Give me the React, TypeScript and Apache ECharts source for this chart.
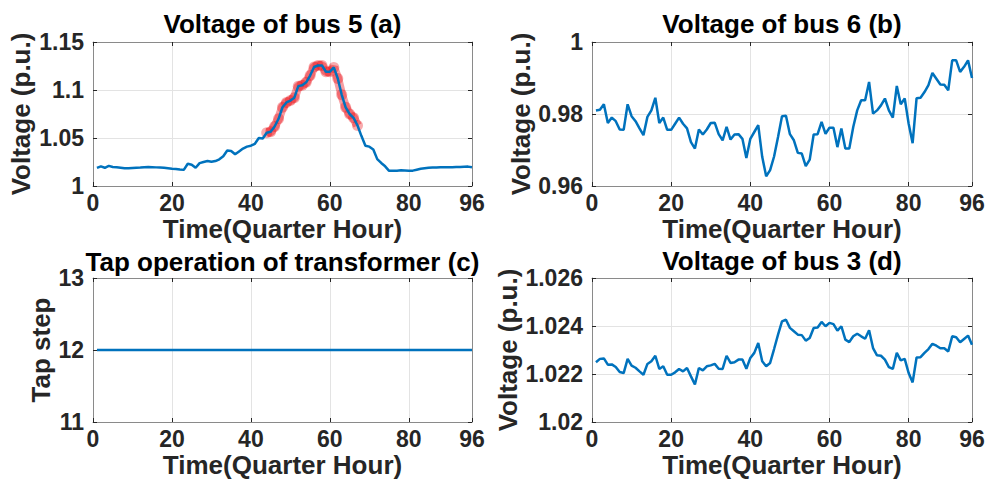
import React, { useEffect, useRef } from "react";
import * as echarts from "echarts";

const TIME = [
  1, 2, 3, 4, 5, 6, 7, 8, 9, 10, 11, 12, 13, 14, 15, 16, 17, 18, 19, 20, 21, 22, 23, 24,
  25, 26, 27, 28, 29, 30, 31, 32, 33, 34, 35, 36, 37, 38, 39, 40, 41, 42, 43, 44, 45, 46, 47, 48,
  49, 50, 51, 52, 53, 54, 55, 56, 57, 58, 59, 60, 61, 62, 63, 64, 65, 66, 67, 68, 69, 70, 71, 72,
  73, 74, 75, 76, 77, 78, 79, 80, 81, 82, 83, 84, 85, 86, 87, 88, 89, 90, 91, 92, 93, 94, 95, 96,
];

const X_TICKS = [0, 20, 40, 60, 80, 96];

// (a) Voltage of bus 5
const BUS5 = [
  1.0188, 1.0205, 1.019, 1.021, 1.0198, 1.0195, 1.019, 1.0185, 1.0185, 1.0188, 1.019, 1.0192,
  1.0195, 1.0198, 1.0196, 1.0194, 1.0192, 1.019, 1.0185, 1.018, 1.0178, 1.0172, 1.0168, 1.0232,
  1.0222, 1.019, 1.0238, 1.025, 1.026, 1.0252, 1.026, 1.0278, 1.031, 1.037, 1.0365, 1.033,
  1.036, 1.039, 1.041, 1.042, 1.044, 1.05, 1.0495, 1.0555, 1.0565, 1.062, 1.07, 1.082,
  1.087, 1.089, 1.092, 1.104, 1.105, 1.108, 1.115, 1.124, 1.1255, 1.1255, 1.119, 1.119,
  1.1235, 1.112, 1.095, 1.082, 1.075, 1.071, 1.063, 1.052, 1.042, 1.041, 1.038, 1.028,
  1.024, 1.0205, 1.0158, 1.0158, 1.016, 1.0163, 1.0162, 1.016, 1.016, 1.017, 1.018, 1.0185,
  1.019, 1.0192, 1.0192, 1.0195, 1.0195, 1.0195, 1.0195, 1.0198, 1.0198, 1.02, 1.0202, 1.0195,
];
// over-voltage period highlighted in red (time indices)
const HIGHLIGHT_START = 44;
const HIGHLIGHT_END = 67;

// (b) Voltage of bus 6
const BUS6 = [
  0.981, 0.9812, 0.9827, 0.9775, 0.979, 0.978, 0.9757, 0.9756, 0.9827, 0.9794, 0.978, 0.976,
  0.9741, 0.9792, 0.981, 0.9845, 0.9775, 0.979, 0.9756, 0.9756, 0.9773, 0.979, 0.9773, 0.976,
  0.9722, 0.9704, 0.9757, 0.9743, 0.9757, 0.9775, 0.9776, 0.9744, 0.9727, 0.9764, 0.9729, 0.9743,
  0.9744, 0.9731, 0.9678, 0.9731, 0.975, 0.9769, 0.9681, 0.9627, 0.9644, 0.9682, 0.9736, 0.9794,
  0.9795, 0.9744, 0.9727, 0.9692, 0.969, 0.9655, 0.9673, 0.9743, 0.9744, 0.9778, 0.9745, 0.9762,
  0.9762, 0.9708, 0.976, 0.9704, 0.9704, 0.9764, 0.981, 0.9838, 0.9838, 0.9889, 0.9801, 0.981,
  0.9824, 0.9843, 0.981, 0.979, 0.9878, 0.9827, 0.9843, 0.9773, 0.9719, 0.9844, 0.9845, 0.9861,
  0.988, 0.9914, 0.9898, 0.9882, 0.9881, 0.9866, 0.9949, 0.9949, 0.9917, 0.9931, 0.9949, 0.99,
];

// (c) Tap operation of transformer
const TAP = [
  12, 12, 12, 12, 12, 12, 12, 12, 12, 12, 12, 12, 12, 12, 12, 12, 12, 12, 12, 12, 12, 12, 12, 12,
  12, 12, 12, 12, 12, 12, 12, 12, 12, 12, 12, 12, 12, 12, 12, 12, 12, 12, 12, 12, 12, 12, 12, 12,
  12, 12, 12, 12, 12, 12, 12, 12, 12, 12, 12, 12, 12, 12, 12, 12, 12, 12, 12, 12, 12, 12, 12, 12,
  12, 12, 12, 12, 12, 12, 12, 12, 12, 12, 12, 12, 12, 12, 12, 12, 12, 12, 12, 12, 12, 12, 12, 12,
];

// (d) Voltage of bus 3
const BUS3 = [
  1.02249, 1.02263, 1.02265, 1.02239, 1.0224, 1.02229, 1.02208, 1.02204, 1.02263, 1.02235, 1.02226, 1.02211,
  1.02197, 1.02242, 1.02253, 1.02276, 1.02221, 1.02232, 1.02197, 1.02197, 1.02207, 1.02221, 1.02211, 1.02225,
  1.0219, 1.02156, 1.02225, 1.02215, 1.02232, 1.02236, 1.02242, 1.02222, 1.02221, 1.02276, 1.02246, 1.02249,
  1.0226, 1.0226, 1.02222, 1.02267, 1.02288, 1.02329, 1.02253, 1.02232, 1.02246, 1.02304, 1.02364, 1.02419,
  1.02426, 1.02392, 1.02378, 1.02364, 1.02362, 1.02339, 1.0235, 1.02392, 1.02394, 1.02417, 1.02399, 1.02413,
  1.02408, 1.02381, 1.02399, 1.02343, 1.02333, 1.02357, 1.02368, 1.02357, 1.02347, 1.02382, 1.02308, 1.02278,
  1.02276, 1.0226, 1.02229, 1.02221, 1.02288, 1.02257, 1.02263, 1.02204, 1.02165, 1.02269, 1.0227, 1.02288,
  1.02304, 1.02326, 1.02318, 1.02307, 1.02307, 1.02294, 1.02357, 1.02353, 1.02332, 1.02346, 1.0236, 1.02322,
];

const PANELS = [
  { title: "Voltage of bus 5 (a)", yName: "Voltage (p.u.)", yMin: 1, yMax: 1.15, yInterval: 0.05, values: BUS5 },
  { title: "Voltage of bus 6 (b)", yName: "Voltage (p.u.)", yMin: 0.96, yMax: 1, yInterval: 0.02, values: BUS6 },
  { title: "Tap operation of transformer (c)", yName: "Tap step", yMin: 11, yMax: 13, yInterval: 1, values: TAP },
  { title: "Voltage of bus 3 (d)", yName: "Voltage (p.u.)", yMin: 1.02, yMax: 1.026, yInterval: 0.002, values: BUS3 },
];

const X_NAME = "Time(Quarter Hour)";

// layout (pixels)
const GRIDS = [
  { left: 93, top: 42, width: 379, height: 144, nameGap: 59, titleY: 24 },
  { left: 592, top: 42, width: 380, height: 144, nameGap: 56, titleY: 24 },
  { left: 93, top: 278, width: 379, height: 144, nameGap: 39, titleY: 262 },
  { left: 592, top: 278, width: 380, height: 144, nameGap: 71, titleY: 261 },
];

const FONT = '"Liberation Sans", Arial, Helvetica, sans-serif';
const AXIS_COLOR = "#8a8a8a";
const TEXT_COLOR = "#262626";
const GRID_COLOR = "#e3e3e3";
const LINE_COLOR = "#0072BD";

export default function App() {
  const ref = useRef<HTMLDivElement>(null);

  useEffect(() => {
    if (!ref.current) return;
    const chart = echarts.init(ref.current, undefined, { renderer: "svg" });

    const xAxes: any[] = [];
    const yAxes: any[] = [];
    const series: any[] = [];
    const graphics: any[] = [];

    PANELS.forEach((p, i) => {
      const g = GRIDS[i];
      xAxes.push({
        type: "value",
        gridIndex: i,
        position: "bottom",
        min: 0,
        max: 96,
        interval: 20,
        name: X_NAME,
        nameLocation: "middle",
        nameGap: 31,
        nameTextStyle: { fontFamily: FONT, fontWeight: "bold", fontSize: 26, lineHeight: 24, color: TEXT_COLOR },
        axisLine: { show: true, lineStyle: { color: AXIS_COLOR, width: 1 } },
        axisTick: { show: true, inside: true, length: 4, lineStyle: { color: TEXT_COLOR } },
        axisLabel: {
          show: true,
          margin: 6,
          fontFamily: FONT,
          fontWeight: "bold",
          fontSize: 23,
          lineHeight: 22,
          color: TEXT_COLOR,
          showMaxLabel: true,
          showMinLabel: true,
          customValues: X_TICKS,
        },
        splitLine: { show: true, lineStyle: { color: GRID_COLOR, width: 1 } },
      });
      yAxes.push({
        type: "value",
        gridIndex: i,
        position: "left",
        min: p.yMin,
        max: p.yMax,
        interval: p.yInterval,
        name: p.yName,
        nameLocation: "middle",
        nameGap: g.nameGap,
        nameTextStyle: { fontFamily: FONT, fontWeight: "bold", fontSize: 26, color: TEXT_COLOR },
        axisLine: { show: true, lineStyle: { color: AXIS_COLOR, width: 1 } },
        axisTick: { show: true, inside: true, length: 4, lineStyle: { color: TEXT_COLOR } },
        axisLabel: {
          show: true,
          margin: 9,
          fontFamily: FONT,
          fontWeight: "bold",
          fontSize: 23,
          color: TEXT_COLOR,
        },
        splitLine: { show: true, lineStyle: { color: GRID_COLOR, width: 1 } },
      });
      graphics.push({
        type: "text",
        x: g.left + g.width / 2,
        y: g.titleY,
        style: {
          text: p.title,
          font: `bold 26px ${FONT}`,
          fill: "#000000",
          textAlign: "center",
          textVerticalAlign: "middle",
          align: "center",
          verticalAlign: "middle",
        },
      });
    });

    // secondary axes: top and right box sides with inward ticks
    PANELS.forEach((p, i) => {
      xAxes.push({
        type: "value",
        gridIndex: i,
        position: "top",
        min: 0,
        max: 96,
        interval: 20,
        axisLine: { show: true, onZero: false, lineStyle: { color: AXIS_COLOR, width: 1 } },
        axisTick: { show: true, inside: true, length: 4, lineStyle: { color: TEXT_COLOR } },
        axisLabel: { show: false },
        splitLine: { show: false },
      });
      yAxes.push({
        type: "value",
        gridIndex: i,
        position: "right",
        min: p.yMin,
        max: p.yMax,
        interval: p.yInterval,
        axisLine: { show: true, onZero: false, lineStyle: { color: AXIS_COLOR, width: 1 } },
        axisTick: { show: true, inside: true, length: 4, lineStyle: { color: TEXT_COLOR } },
        axisLabel: { show: false },
        splitLine: { show: false },
      });
    });

    // red highlight of the over-voltage period on bus 5
    const highlight = TIME.map((t, k) => [t, BUS5[k]]).filter(
      (d) => d[0] >= HIGHLIGHT_START && d[0] <= HIGHLIGHT_END
    );
    series.push({
      type: "line",
      xAxisIndex: 0,
      yAxisIndex: 0,
      data: highlight,
      symbol: "circle",
      symbolSize: 11,
      showSymbol: true,
      itemStyle: { color: "rgba(235,0,10,0.33)", borderWidth: 0 },
      lineStyle: { color: "rgba(235,0,10,0.38)", width: 9 },
      z: 2,
      silent: true,
    });

    PANELS.forEach((p, i) => {
      series.push({
        type: "line",
        xAxisIndex: i,
        yAxisIndex: i,
        data: TIME.map((t, k) => [t, p.values[k]]),
        showSymbol: false,
        symbol: "none",
        lineStyle: { color: LINE_COLOR, width: 2.5 },
        z: 3,
        silent: true,
      });
    });

    chart.setOption({
      animation: false,
      backgroundColor: "#ffffff",
      grid: GRIDS.map((g) => ({ left: g.left, top: g.top, width: g.width, height: g.height, containLabel: false })),
      xAxis: xAxes,
      yAxis: yAxes,
      series,
      graphic: graphics,
    });

    return () => chart.dispose();
  }, []);

  return (
    <div
      ref={ref}
      style={{ position: "absolute", left: 0, top: 0, width: 993, height: 490, background: "#fff" }}
    />
  );
}
